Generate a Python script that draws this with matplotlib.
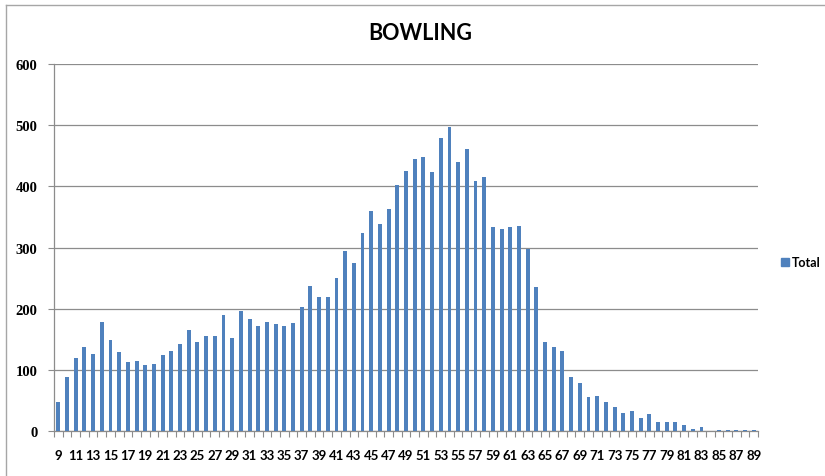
import numpy as np
import matplotlib
matplotlib.use("Agg")
import matplotlib.pyplot as plt
from matplotlib.lines import Line2D

# bowling totals, categories 9..89
categories = list(range(9, 90))
totals = [48, 89, 119, 137, 126, 178, 149, 129, 112, 115,
          108, 110, 124, 130, 142, 165, 145, 156, 155, 190,
          152, 197, 183, 171, 178, 175, 171, 176, 203, 237,
          219, 219, 250, 295, 275, 323, 360, 338, 363, 402,
          425, 444, 448, 423, 479, 497, 440, 461, 408, 415,
          333, 331, 334, 335, 297, 236, 146, 137, 130, 89,
          78, 55, 58, 48, 39, 29, 32, 21, 27, 14,
          14, 14, 10, 3, 7, 0, 1, 2, 1, 1, 1]
yticks = [0, 100, 200, 300, 400, 500, 600]

bar_color = "#4F81BD"
grid_color = "#8C8C8C"

fig = plt.figure(figsize=(8.25, 4.77), dpi=100)
ax = fig.add_axes([54 / 825, 1 - 432 / 477, (758 - 54) / 825, (432 - 65) / 477])

x = np.arange(len(categories))
ax.bar(x, totals, width=0.45, color=bar_color, zorder=3)

ax.set_xlim(-0.5, len(categories) - 0.5)
ax.set_ylim(0, 600)
ax.set_yticks(yticks)
ax.set_yticklabels([str(v) for v in yticks], fontfamily="Liberation Serif",
                   fontweight="bold", fontsize=10.5)
ax.yaxis.grid(True, color=grid_color, linewidth=0.9, zorder=0)

# labels every other category, ticks between categories
ax.set_xticks(x[::2])
ax.set_xticklabels([str(c) for c in categories[::2]], fontfamily="Lato",
                   fontweight="bold", fontsize=9.5)
ax.set_xticks(np.arange(-0.5, len(categories)), minor=True)
ax.tick_params(axis="x", which="major", length=0, pad=13)
ax.tick_params(axis="x", which="minor", length=4, color=grid_color, width=0.8)
ax.tick_params(axis="y", length=4, color=grid_color, width=0.8, pad=8)

for side in ["top", "right"]:
    ax.spines[side].set_visible(False)
ax.spines["left"].set_color(grid_color)
ax.spines["bottom"].set_color(grid_color)
ax.spines["left"].set_linewidth(0.9)
ax.spines["bottom"].set_linewidth(0.9)

fig.text(420 / 825, 1 - 33 / 477, "BOWLING", ha="center", va="center",
         fontfamily="Lato", fontweight="bold", fontsize=15.5)

handle = Line2D([], [], marker="s", linestyle="none", color=bar_color, markersize=6)
fig.legend([handle], ["Total"], loc="center left",
           bbox_to_anchor=(772 / 825, 1 - 263 / 477), frameon=False,
           prop={"family": "Lato", "weight": "bold", "size": 9},
           handletextpad=0.1, borderpad=0, handlelength=1.0)

# chart area border (left and top visible)
fig.add_artist(Line2D([6 / 825, 6 / 825], [0, 1 - 6 / 477], color="#A6A6A6",
                      linewidth=1, transform=fig.transFigure))
fig.add_artist(Line2D([6 / 825, 1], [1 - 6 / 477, 1 - 6 / 477], color="#A6A6A6",
                      linewidth=1, transform=fig.transFigure))

fig.savefig("out.png", dpi=100)
